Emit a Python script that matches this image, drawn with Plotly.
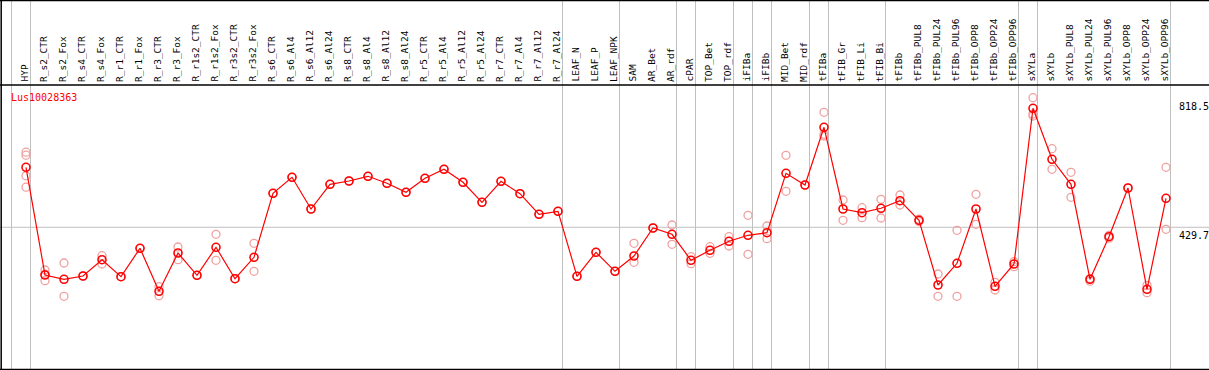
import plotly.graph_objects as go

categories = ["HYP", "R_s2_CTR", "R_s2_Fox", "R_s4_CTR", "R_s4_Fox", "R_r1_CTR", "R_r1_Fox",
              "R_r3_CTR", "R_r3_Fox", "R_r1s2_CTR", "R_r1s2_Fox", "R_r3s2_CTR", "R_r3s2_Fox",
              "R_s6_CTR", "R_s6_Al4", "R_s6_Al12", "R_s6_Al24", "R_s8_CTR", "R_s8_Al4",
              "R_s8_Al12", "R_s8_Al24", "R_r5_CTR", "R_r5_Al4", "R_r5_Al12", "R_r5_Al24",
              "R_r7_CTR", "R_r7_Al4", "R_r7_Al12", "R_r7_Al24", "LEAF_N", "LEAF_P", "LEAF_NPK",
              "SAM", "AR_Bet", "AR_rdf", "cPAR", "TOP_Bet", "TOP_rdf", "iFIBa", "iFIBb",
              "MID_Bet", "MID_rdf", "tFIBa", "tFIB_Gr", "tFIB_Li", "tFIB_Bi", "tFIBb",
              "tFIBb_PUL8", "tFIBb_PUL24", "tFIBb_PUL96", "tFIBb_OPP8", "tFIBb_OPP24",
              "tFIBb_OPP96", "sXYLa", "sXYLb", "sXYLb_PUL8", "sXYLb_PUL24", "sXYLb_PUL96",
              "sXYLb_OPP8", "sXYLb_OPP24", "sXYLb_OPP96"]

mean_values = [609.6, 286.5, 273.6, 283.5, 332.4, 281.4, 366.6, 237.6, 352.5, 285.6, 369.6,
               275.4, 339.6, 531.6, 579.6, 484.5, 558.6, 568.5, 582.6, 561.6, 534.6, 576.6,
               603.6, 564.6, 504.6, 567.6, 530.4, 468.6, 477.6, 282.6, 354.6, 297.6, 343.5,
               427.5, 408.6, 330.6, 360.6, 387.6, 405.6, 413.4, 591.6, 556.5, 729.6, 484.5,
               473.4, 486.6, 509.4, 450.6, 256.5, 321.6, 484.5, 252.6, 319.5, 786.6, 633.6,
               558.6, 273.6, 401.4, 547.5, 243.6, 516.6]

replicates = [
    [655.0, 646.0, 584.0, 550.0], [301.5, 269.4, 289.0], [322.5, 222.6], [283.5], [344.4, 319.5],
    [281.4], [366.6], [251.4, 224.4], [370.5, 332.4], [285.6], [408.6, 330.6],
    [275.4], [381.6, 297.6], [531.6], [579.6], [484.5], [558.6], [568.5], [582.6],
    [561.6], [534.6], [576.6], [603.6], [564.6], [504.6], [567.6], [530.4], [468.6],
    [477.6], [282.6], [354.6], [297.6], [381.6, 324.6], [427.5], [436.5, 378.6],
    [341.4, 320.4], [371.4, 351.6], [401.4, 373.5], [465.6, 348.6], [433.5, 395.4],
    [645.6, 537.6], [556.5], [774.6, 708.6, 703.5], [511.5, 450.6], [488.4, 458.4],
    [513.6, 457.5], [526.5, 496.5], [447.0, 454.0], [289.5, 222.6], [420.6, 222.6],
    [528.6, 438.6], [264.6, 241.5], [326.4, 311.4], [818.5, 769.5, 763.5],
    [665.4, 603.6], [594.6, 519.6], [276.0, 268.0], [405.0, 397.0], [547.5],
    [255.6, 233.4], [609.6, 423.6]]

group_starts = [0, 1, 29, 32, 35, 36, 38, 39, 40, 42, 43, 46, 53, 54, 61]
axis_labels = ["818.5", "429.7", "0"]
axis_values = [818.5, 429.7, 0.0]
gene = "Lus10028363"

W, H = 1209, 370
RED = "#ff0000"
PINK = "#f0a0a0"
GRAY = "#c0c0c0"
FONT = "DejaVu Sans Mono"

idx = list(range(len(categories)))
rep_x, rep_y = [], []
for i, reps in enumerate(replicates):
    for v in reps:
        rep_x.append(i)
        rep_y.append(v)

fig = go.Figure()
fig.add_trace(go.Scatter(x=rep_x, y=rep_y, mode="markers",
                         marker=dict(symbol="circle-open", size=8, color=PINK,
                                     line=dict(width=1.3, color=PINK)),
                         hoverinfo="skip", showlegend=False))
fig.add_trace(go.Scatter(x=idx, y=mean_values, mode="lines+markers",
                         line=dict(color=RED, width=1.2),
                         marker=dict(symbol="circle-open", size=8, color=RED,
                                     line=dict(width=1.6, color=RED)),
                         text=categories, showlegend=False))

# pixel mapping: x_px = 26 + 19*i ; y_px = 370.5 - v/3
x_lo = (0 - 26) / 19
x_hi = (W - 26) / 19
y_lo = (370.5 - H) * 3
y_hi = 370.5 * 3

shapes = []
for g in group_starts:
    shapes.append(dict(type="line", xref="x", yref="paper", x0=g - 0.763, x1=g - 0.763,
                       y0=0, y1=1, line=dict(color=GRAY, width=1), layer="below"))
shapes.append(dict(type="line", xref="paper", yref="y", x0=0, x1=1, y0=axis_values[1],
                   y1=axis_values[1], line=dict(color=GRAY, width=1), layer="below"))
# frame lines
for yp in [1 - 0.5 / H, 1 - 85 / H, 0.5 / H]:
    shapes.append(dict(type="line", xref="paper", yref="paper", x0=0, x1=1, y0=yp, y1=yp,
                       line=dict(color="black", width=1.5)))
shapes.append(dict(type="line", xref="paper", yref="paper", x0=1.2 / W, x1=1.2 / W, y0=0, y1=1,
                   line=dict(color="black", width=1.5)))

annotations = []
for i, c in enumerate(categories):
    annotations.append(dict(x=i, y=1 - 84 / H, xref="x", yref="paper", text=c, showarrow=False,
                            textangle=-90, xanchor="center", yanchor="bottom", xshift=-2,
                            font=dict(family=FONT, size=9.5, color="black")))
annotations.append(dict(x=9 / W, y=1 - 90 / H, xref="paper", yref="paper", text=gene,
                        showarrow=False, xanchor="left", yanchor="top",
                        font=dict(family=FONT, size=10, color=RED)))
for lab, v in zip(axis_labels, axis_values):
    annotations.append(dict(x=1177 / W, y=v, xref="paper", yref="y", text=lab, showarrow=False,
                            xanchor="left", yanchor="bottom" if v == 0 else "top",
                            yshift=3 if v == 0 else -1,
                            font=dict(family=FONT, size=10, color="black")))

fig.update_layout(width=W, height=H, margin=dict(l=0, r=0, t=0, b=0),
                  paper_bgcolor="white", plot_bgcolor="white",
                  xaxis=dict(range=[x_lo, x_hi], visible=False, showgrid=False, zeroline=False),
                  yaxis=dict(range=[y_lo, y_hi], visible=False, showgrid=False, zeroline=False),
                  shapes=shapes, annotations=annotations)

fig.write_html("out.html", config={"displayModeBar": False},
               post_script="document.body.style.margin='0';document.body.style.overflow='hidden';")
